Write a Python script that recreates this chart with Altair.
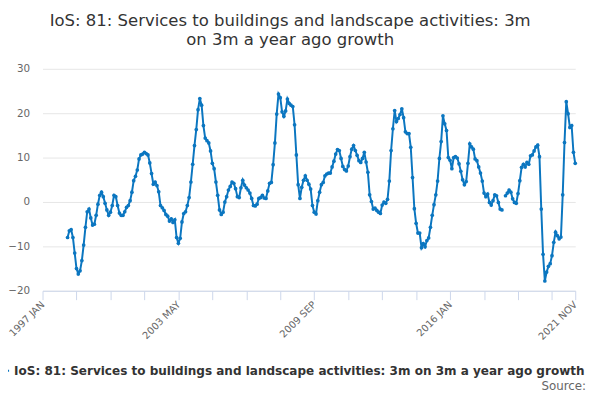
import altair as alt
import pandas as pd

MONTHS = ["JAN", "FEB", "MAR", "APR", "MAY", "JUN", "JUL", "AUG", "SEP", "OCT", "NOV", "DEC"]
# categories: 1997 JAN .. 2021 NOV
categories = [f"{1997 + i // 12} {MONTHS[i % 12]}" for i in range(299)]

series_name = "IoS: 81: Services to buildings and landscape activities: 3m on 3m a year ago growth"

# values from 1998 MAR (index 14) to 2021 NOV (index 298); None = missing
start_index = 14
values = [
    -8.0, -6.5, -6.2, -8.0, -11.5, -15.0, -16.2, -15.5, -13.2, -9.7,
    -5.7, -2.2, -1.6, -3.6, -5.2, -5.0, -3.0, -0.5, 1.5, 2.2,
    1.2, -0.3, -1.8, -3.0, -2.3, -0.8, 1.5, 1.2, -0.8, -2.5,
    -3.0, -3.0, -2.2, -1.2, -0.8, 0.3, 2.2, 4.8, 5.8, 7.2,
    9.7, 10.6, 10.8, 11.2, 10.9, 10.6, 8.8, 6.4, 4.0, 4.5,
    3.7, 2.3, -0.8, -1.3, -1.9, -2.8, -3.2, -4.3, -3.8, -4.6,
    -4.0, -8.0, -9.3, -8.2, -4.5, -2.6, -2.2, -0.8, 1.0, 4.5,
    8.5, 12.7, 16.3, 20.8, 23.3, 21.8, 17.2, 14.4, 13.8, 13.3,
    11.5, 8.7, 7.5, 4.5, 1.5, -1.8, -2.8, -2.3, 0.0, 1.2,
    2.7, 3.5, 4.5, 4.2, 3.0, 1.2, 1.0, 3.2, 4.9, 3.8,
    3.2, 2.7, 2.0, 0.8, -0.8, -0.9, -0.5, 0.8, 1.0, 1.5,
    0.9, 0.8, 2.5, 4.2, 4.4, 8.4, 13.3, 19.8, 24.3, 23.5,
    20.3, 19.3, 20.5, 23.2, 22.2, 21.8, 21.5, 17.4, 10.6, 3.9,
    0.8, 3.3, 4.9, 5.9, 4.9, 4.0, 2.9, -0.8, -2.3, -2.7,
    0.3, 2.2, 3.9, 4.4, 5.9, 6.3, 6.5, 6.5, 7.9, 9.2,
    10.8, 11.8, 11.6, 9.8, 8.0, 7.3, 7.0, 8.1, 10.2, 11.9,
    12.7, 11.6, 10.5, 9.3, 8.9, 9.8, 11.2, 9.0, 6.7, 1.6,
    0.1, -1.6, -1.4, -1.9, -2.3, -2.6, -0.7, 0.0, -0.3, 0.6,
    4.7, 11.6, 16.5, 20.6, 18.1, 18.8, 19.7, 21.0, 19.0, 15.8,
    15.4, 15.4, 12.3, 5.5, -1.5, -4.8, -7.0, -7.0, -10.3, -9.4,
    -10.1, -8.7, -8.1, -5.7, -3.0, -0.6, 1.6, 4.7, 9.8, 13.6,
    19.4, 17.6, 16.1, 10.0, 9.4, 7.5, 10.0, 10.2, 9.9, 8.6,
    6.9, 5.0, 3.9, 4.6, 8.7, 13.1, 12.4, 11.9, 9.7, 9.3,
    7.9, 6.5, 4.7, 2.0, 1.2, 1.8, -0.1, -0.7, 0.3, 1.6,
    1.4, -0.1, -1.6, -1.8, None, 1.4, 2.0, 2.7, 2.2, 0.7,
    -0.1, -0.3, 1.9, 4.8, 7.8, 8.5, 7.9, 8.9, 8.5, 10.4,
    10.6, 11.5, 12.4, 12.8, 10.2, -1.6, -11.8, -17.8, -15.8, -14.5,
    -13.9, -12.1, -9.1, -6.8, -7.6, -8.3, -7.9, 1.6, 13.4, 22.6,
    19.9, 16.8, 17.2, 11.2, 8.7,
]

y_ticks = [-20, -10, 0, 10, 20, 30]
label_positions = [0, 76, 152, 228, 298]
tick_positions = list(range(0, 286, 19)) + [298]

rows = []
seg = 0
for i, v in enumerate(values):
    idx = start_index + i
    if v is None:
        seg += 1
        continue
    rows.append({"idx": idx, "month": categories[idx], "value": v, "seg": seg, "series": series_name})
df = pd.DataFrame(rows)

label_expr = " : ".join(
    f"datum.value == {p} ? '{categories[p]}'" for p in label_positions
) + " : ''"

BLUE = "#0b76c0"
FONT = "DejaVu Sans"
LEGEND_SYMBOL = "M-1,0L1,0M-0.4,0a0.4,0.4 0 1,0 0.8,0a0.4,0.4 0 1,0 -0.8,0"

x_enc = alt.X(
    "idx:Q",
    scale=alt.Scale(domain=[0, 298], nice=False, zero=False),
    axis=alt.Axis(
        values=tick_positions,
        labelExpr=label_expr,
        labelAngle=-45,
        labelAlign="right",
        labelBaseline="middle",
        labelColor="#666666",
        labelFontSize=10,
        labelFont=FONT,
        labelPadding=3,
        labelOverlap=False,
        domainColor="#ccd6eb",
        tickColor="#ccd6eb",
        tickSize=9,
        grid=False,
        title=None,
    ),
)
y_enc = alt.Y(
    "value:Q",
    scale=alt.Scale(domain=[-20, 30], nice=False, zero=False),
    axis=alt.Axis(
        values=y_ticks,
        labelColor="#666666",
        labelFontSize=10.5,
        labelFont=FONT,
        labelPadding=13,
        domain=False,
        ticks=False,
        gridColor="#e6e6e6",
        title=None,
    ),
)

line = alt.Chart(df).mark_line(strokeWidth=2).encode(
    x=x_enc,
    y=y_enc,
    detail="seg:N",
    color=alt.Color(
        "series:N",
        scale=alt.Scale(range=[BLUE]),
        legend=alt.Legend(
            title=None,
            orient="none",
            legendX=-45,
            legendY=300,
            symbolType=LEGEND_SYMBOL,
            symbolFillColor=BLUE,
            symbolStrokeColor=BLUE,
            symbolStrokeWidth=2,
            symbolSize=100,
            labelFont=FONT,
            labelFontSize=12.2,
            labelFontWeight="bold",
            labelColor="#333333",
            labelLimit=0,
        ),
    ),
)

points = alt.Chart(df).mark_point(filled=True, size=14, opacity=1).encode(
    x=x_enc,
    y=y_enc,
    color=alt.value(BLUE),
)

source_df = pd.DataFrame({"t": ["Source:"]})
source = alt.Chart(source_df).mark_text(
    align="right", baseline="middle", font=FONT, fontSize=12, color="#666666"
).encode(text="t:N", x=alt.value(551), y=alt.value(322))

chart = (
    alt.layer(line, points, source)
    .properties(
        width=540,
        height=225,
        autosize=alt.AutoSizeParams(type="none"),
        padding={"left": 35, "top": 59, "right": 17, "bottom": 100},
        title=alt.TitleParams(
            text=["IoS: 81: Services to buildings and landscape activities: 3m", "on 3m a year ago growth"],
            font=FONT,
            fontSize=16.7,
            fontWeight="normal",
            color="#333333",
            anchor="middle",
            frame="group",
            dx=-19,
            offset=15,
            lineHeight=20,
        ),
    )
    .configure_view(stroke=None)
)

chart.save("out.html", embed_options={"renderer": "svg", "actions": False})
